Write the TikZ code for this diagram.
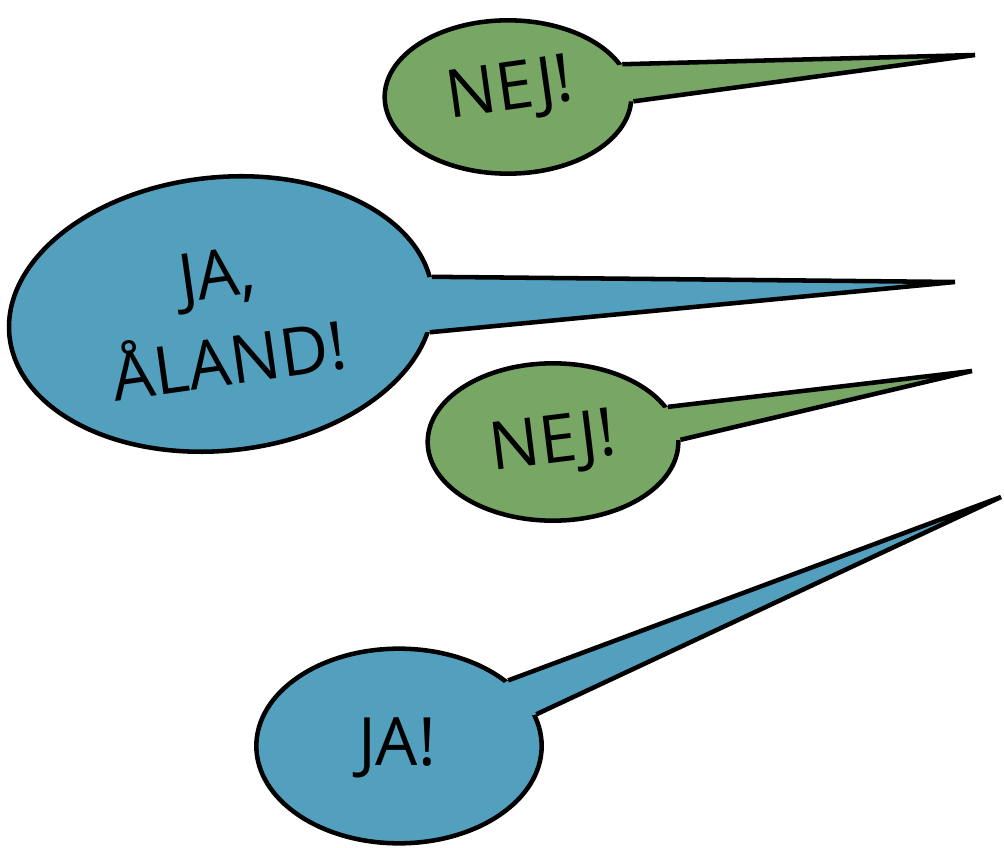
\documentclass[tikz,border=0pt]{standalone}
\usepackage{fontspec}
\setmainfont{Open Sans}
\usetikzlibrary{shapes.geometric,calc}
\definecolor{bgreen}{RGB}{120,166,101}
\definecolor{bblue}{RGB}{83,160,190}
\tikzset{
  bubble/.style={ellipse,draw=black,line width=3.4pt,inner sep=0pt},
  tailline/.style={draw=black,line width=3.4pt,line join=miter},
  say/.style={inner sep=0pt,font=\fontsize{50}{66}\selectfont,align=center}
}
\begin{document}
\begin{tikzpicture}[x=0.75pt,y=-0.75pt]
\useasboundingbox (0,0) rectangle (1004,848);
% bubble 1 (green, top)
\node[bubble,fill=bgreen,minimum width=185pt,minimum height=115pt] (b1) at (508,97) {};
\coordinate (tip1) at (975,55);
\fill[bgreen] (b1.16) -- (tip1) -- (b1.358) -- ($(b1.center)!0.8!(b1.358)$) -- ($(b1.center)!0.8!(b1.16)$) -- cycle;
\draw[tailline] (b1.16) -- (tip1) -- (b1.358);
\node[say,rotate=8] (t1) at (510,92) {NEJ!};
% bubble 2 (blue, large)
\node[bubble,fill=bblue,rotate=6,minimum width=319pt,minimum height=205pt] (b2) at (221,314) {};
\coordinate (tip2) at (955,282);
\fill[bblue] (b2.4) -- (tip2) -- (b2.349) -- ($(b2.center)!0.8!(b2.349)$) -- ($(b2.center)!0.8!(b2.4)$) -- cycle;
\draw[tailline] (b2.4) -- (tip2) -- (b2.349);
\node[say,rotate=8] (t2) at (223,318) {JA,\\ÅLAND!};
% bubble 3 (green, middle)
\node[bubble,fill=bgreen,minimum width=188pt,minimum height=118pt] (b3) at (553,442) {};
\coordinate (tip3) at (972,371);
\fill[bgreen] (b3.17) -- (tip3) -- (b3.1) -- ($(b3.center)!0.8!(b3.1)$) -- ($(b3.center)!0.8!(b3.17)$) -- cycle;
\draw[tailline] (b3.17) -- (tip3) -- (b3.1);
\node[say,rotate=7] (t3) at (553,445) {NEJ!};
% bubble 4 (blue, bottom)
\node[bubble,fill=bblue,minimum width=214pt,minimum height=146pt] (b4) at (399,746) {};
\coordinate (tip4) at (1001,497);
\fill[bblue] (b4.31) -- (tip4) -- (b4.13) -- ($(b4.center)!0.8!(b4.13)$) -- ($(b4.center)!0.8!(b4.31)$) -- cycle;
\draw[tailline] (b4.31) -- (tip4) -- (b4.13);
\node[say] (t4) at (397,748) {JA!};
\end{tikzpicture}
\end{document}
